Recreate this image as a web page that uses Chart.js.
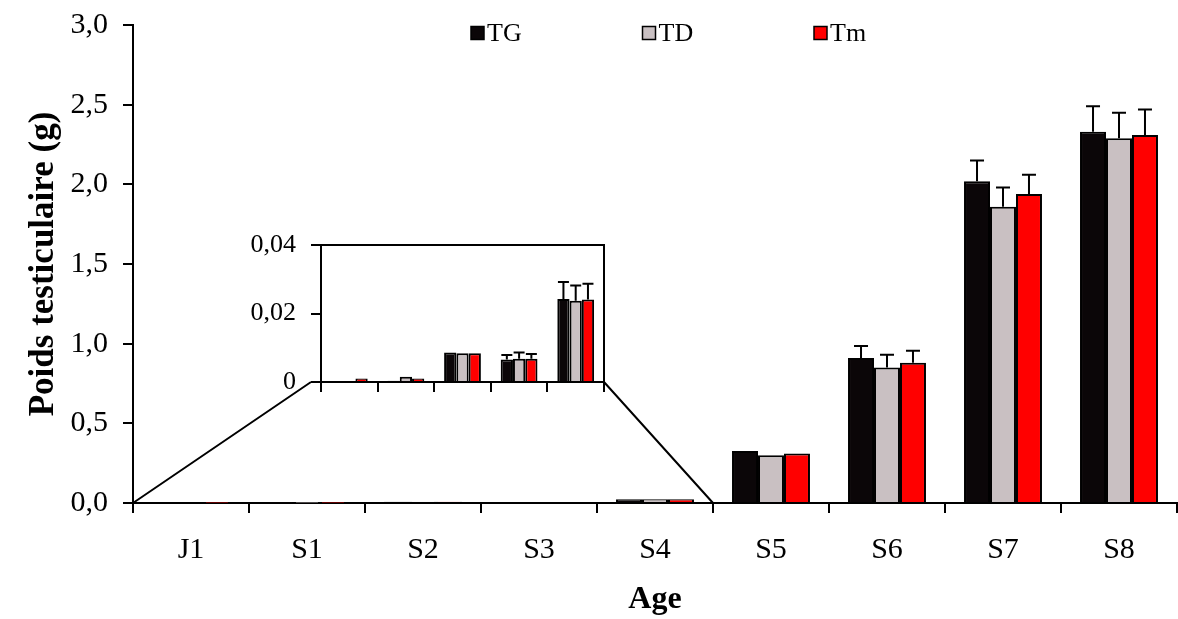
<!DOCTYPE html>
<html>
<head>
<meta charset="utf-8">
<script src="https://cdn.jsdelivr.net/npm/chart.js@4.4.0/dist/chart.umd.min.js"></script>
<style>
  html, body { margin: 0; padding: 0; background: #fff; }
  #wrap { position: relative; width: 1178px; height: 619px; }
  #mainChart { position: absolute; left: 0; top: 0; }
  #insetChart { position: absolute; left: 230px; top: 230px; }
</style>
</head>
<body>
<div id="wrap">
  <canvas id="mainChart" width="1178" height="619"></canvas>
  <canvas id="insetChart" width="390" height="170"></canvas>
</div>
<script>
// ==================== DATA ====================

const ages = ['J1', 'S1', 'S2', 'S3', 'S4', 'S5', 'S6', 'S7', 'S8'];
const seriesNames = ['TG', 'TD', 'Tm'];

// Poids moyen (g)
const tgValues = [0, 0.0004, 0.0086, 0.0066, 0.0242, 0.326, 0.91, 2.02, 2.33];
const tdValues = [0, 0.0015, 0.0084, 0.0068, 0.0237, 0.30, 0.85, 1.86, 2.29];
const tmValues = [0.001, 0.001, 0.0084, 0.0068, 0.0241, 0.31, 0.88, 1.94, 2.31];

// Erreurs standard (g)
const tgErrors = [0, 0, 0.0002, 0.0013, 0.005, 0.005, 0.075, 0.13, 0.16];
const tdErrors = [0, 0, 0.0002, 0.0018, 0.0045, 0.004, 0.08, 0.12, 0.16];
const tmErrors = [0, 0, 0.0002, 0.0014, 0.0046, 0.004, 0.075, 0.12, 0.16];

// Graduations
const mainTicks = [0, 0.5, 1, 1.5, 2, 2.5, 3];
const mainTickLabels = ['0,0', '0,5', '1,0', '1,5', '2,0', '2,5', '3,0'];
const insetTicks = [0, 0.02, 0.04];
const insetTickLabels = ['0', '0,02', '0,04'];
const insetCount = 5; // J1 .. S4 agrandis dans l'encart

// ==================== STYLE ====================

const FONT = "'Liberation Serif', 'Times New Roman', serif";
const colors = ['#0b0608', '#c9c0c2', '#ff0000'];
const INSET_LEFT = 230;
const INSET_TOP = 230;

Chart.defaults.font.family = FONT;
Chart.defaults.color = '#000';

function buildDatasets(count) {
    const values = [tgValues, tdValues, tmValues];
    const errors = [tgErrors, tdErrors, tmErrors];
    return seriesNames.map((name, i) => ({
        label: name,
        data: values[i].slice(0, count),
        errors: errors[i].slice(0, count),
        backgroundColor: colors[i],
        borderColor: '#000',
        borderWidth: 2
    }));
}

// Barres d'erreur (vers le haut seulement)
function errorBarsPlugin(capWidth) {
    return {
        id: 'errorBars',
        afterDatasetsDraw(chart) {
            const ctx = chart.ctx;
            const yScale = chart.scales.y;
            ctx.save();
            ctx.strokeStyle = '#000';
            ctx.lineWidth = 2;
            chart.data.datasets.forEach((ds, di) => {
                const meta = chart.getDatasetMeta(di);
                meta.data.forEach((bar, i) => {
                    const err = ds.errors[i];
                    if (!err) return;
                    const top = yScale.getPixelForValue(ds.data[i] + err);
                    if (bar.y - top < 2) return;
                    ctx.beginPath();
                    ctx.moveTo(bar.x, bar.y);
                    ctx.lineTo(bar.x, top);
                    ctx.moveTo(bar.x - capWidth / 2, top);
                    ctx.lineTo(bar.x + capWidth / 2, top);
                    ctx.stroke();
                });
            });
            ctx.restore();
        }
    };
}

function axisTicks(values) {
    return scale => { scale.ticks = values.map(v => ({ value: v })); };
}

// largeur / hauteur fixes des axes, sans marge ajoutée pour les étiquettes
function fixedWidth(w) {
    return s => { s.width = w; s.paddingTop = 0; s.paddingBottom = 0; };
}
function fixedHeight(h) {
    return s => { s.height = h; s.paddingLeft = 0; s.paddingRight = 0; };
}

// ==================== INSET CHART ====================

const insetFrame = {
    id: 'insetFrame',
    afterDraw(chart) {
        const { ctx, chartArea: a } = chart;
        ctx.save();
        ctx.strokeStyle = '#000';
        ctx.lineWidth = 2;
        ctx.beginPath();
        ctx.moveTo(a.left, a.top);
        ctx.lineTo(a.right, a.top);
        ctx.lineTo(a.right, a.bottom);
        ctx.stroke();
        ctx.restore();
    }
};

const insetChart = new Chart(document.getElementById('insetChart'), {
    type: 'bar',
    data: {
        labels: ages.slice(0, insetCount),
        datasets: buildDatasets(insetCount)
    },
    options: {
        responsive: false,
        animation: false,
        events: [],
        layout: { padding: { top: 15, right: 16, left: 0, bottom: 0 } },
        datasets: { bar: { categoryPercentage: 0.65, barPercentage: 1 } },
        plugins: { legend: { display: false }, tooltip: { enabled: false } },
        scales: {
            x: {
                grid: { offset: true, drawOnChartArea: false, color: '#000', lineWidth: 2, tickLength: 10 },
                border: { color: '#000', width: 2 },
                ticks: { display: false },
                afterFit: fixedHeight(18)
            },
            y: {
                min: 0,
                max: 0.04,
                afterBuildTicks: axisTicks(insetTicks),
                grid: { drawOnChartArea: false, color: '#000', lineWidth: 2, tickLength: 10 },
                border: { color: '#000', width: 2 },
                ticks: {
                    font: { size: 26 },
                    padding: 15,
                    callback: (v, i) => insetTickLabels[i]
                },
                afterFit: fixedWidth(91)
            }
        }
    },
    plugins: [errorBarsPlugin(11), insetFrame]
});

// ==================== MAIN CHART ====================

// Lignes reliant la zone J1-S4 à l'encart
const connectors = {
    id: 'connectors',
    afterDraw(chart) {
        const { ctx, scales: { x, y } } = chart;
        const area = insetChart.chartArea;
        const step = x.width / ages.length;
        const y0 = y.getPixelForValue(0);
        const zoomLeft = x.getPixelForValue(0) - step / 2;
        const zoomRight = x.getPixelForValue(insetCount - 1) + step / 2;
        const tl = insetChart.options.scales.y.grid.tickLength;
        ctx.save();
        ctx.strokeStyle = '#000';
        ctx.lineWidth = 2;
        ctx.beginPath();
        ctx.moveTo(zoomLeft, y0);
        ctx.lineTo(INSET_LEFT + area.left - tl, INSET_TOP + area.bottom);
        ctx.moveTo(INSET_LEFT + area.right, INSET_TOP + area.bottom);
        ctx.lineTo(zoomRight, y0);
        ctx.stroke();
        ctx.restore();
    }
};

// Légende dessinée dans la zone du graphique
const innerLegend = {
    id: 'innerLegend',
    afterDraw(chart) {
        const ctx = chart.ctx;
        const box = 13;
        const startX = 471;
        const stepX = 171.5;
        const cy = 33;
        ctx.save();
        ctx.font = '26px ' + FONT;
        ctx.textBaseline = 'middle';
        chart.data.datasets.forEach((ds, i) => {
            const bx = startX + i * stepX;
            ctx.fillStyle = ds.backgroundColor;
            ctx.fillRect(bx, cy - box / 2, box, box);
            ctx.strokeStyle = '#000';
            ctx.lineWidth = 1.5;
            ctx.strokeRect(bx, cy - box / 2, box, box);
            ctx.fillStyle = '#000';
            ctx.fillText(ds.label, bx + box + 3, cy + 1);
        });
        ctx.restore();
    }
};

const mainChart = new Chart(document.getElementById('mainChart'), {
    type: 'bar',
    data: {
        labels: ages,
        datasets: buildDatasets(ages.length)
    },
    options: {
        responsive: false,
        animation: false,
        events: [],
        layout: { padding: { top: 25, right: 1, left: 0, bottom: 0 } },
        datasets: { bar: { categoryPercentage: 0.672, barPercentage: 1 } },
        plugins: { legend: { display: false }, tooltip: { enabled: false } },
        scales: {
            x: {
                z: 1, // l'axe passe au-dessus des barres quasi nulles
                grid: { offset: true, drawOnChartArea: false, color: '#000', lineWidth: 2, tickLength: 10 },
                border: { color: '#000', width: 2 },
                ticks: { font: { size: 30 }, padding: 19, maxRotation: 0, autoSkip: false },
                title: {
                    display: true,
                    text: 'Age',
                    font: { size: 32, weight: 'bold' },
                    padding: { top: 0, bottom: 0 }
                },
                afterFit: fixedHeight(116)
            },
            y: {
                min: 0,
                max: 3,
                afterBuildTicks: axisTicks(mainTicks),
                grid: { drawOnChartArea: false, color: '#000', lineWidth: 2, tickLength: 10 },
                border: { color: '#000', width: 2 },
                ticks: {
                    font: { size: 30 },
                    padding: 15,
                    callback: (v, i) => mainTickLabels[i]
                },
                title: {
                    display: true,
                    text: 'Poids testiculaire (g)',
                    font: { size: 35, weight: 'bold' },
                    padding: { top: 23, bottom: 0 }
                },
                afterFit: fixedWidth(133)
            }
        }
    },
    plugins: [errorBarsPlugin(14), connectors, innerLegend]
});
</script>
</body>
</html>
